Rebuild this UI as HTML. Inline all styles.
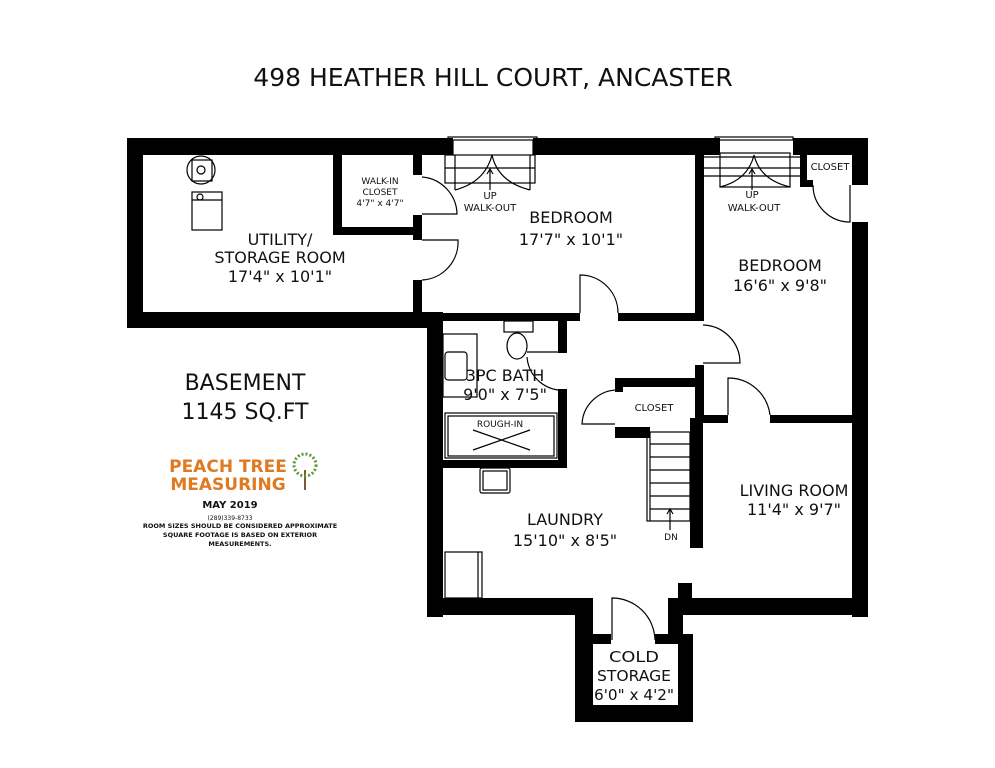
<!DOCTYPE html>
<html><head><meta charset="utf-8"><style>
html,body{margin:0;padding:0;background:#fff;}
svg{display:block;}
text{font-family:"DejaVu Sans","Liberation Sans",sans-serif;fill:#111;text-anchor:middle;}
</style></head><body>
<svg width="995" height="768" viewBox="0 0 995 768" xmlns="http://www.w3.org/2000/svg">
<rect width="995" height="768" fill="#fff"/>
<text x="493" y="86" font-size="25">498 HEATHER HILL COURT, ANCASTER</text>

<g fill="#000">
<rect x="127" y="138" width="326" height="17"/>
<rect x="533" y="138" width="187" height="17"/>
<rect x="793" y="138" width="75" height="17"/>
<rect x="127" y="138" width="16" height="190"/>
<rect x="127" y="312" width="316" height="16"/>
<rect x="427" y="312" width="16" height="305"/>
<rect x="852" y="138" width="16" height="47"/>
<rect x="852" y="222" width="16" height="395"/>
<rect x="427" y="598" width="166" height="17"/>
<rect x="668" y="598" width="200" height="17"/>
<rect x="678" y="583" width="14" height="17"/>
<rect x="575" y="598" width="18" height="124"/>
<rect x="668" y="598" width="15" height="42"/>
<rect x="678" y="634" width="15" height="88"/>
<rect x="575" y="705" width="118" height="17"/>
<rect x="593" y="634" width="18" height="10"/>
<rect x="655" y="634" width="25" height="10"/>
<rect x="413" y="155" width="9" height="20"/>
<rect x="413" y="215" width="9" height="25"/>
<rect x="413" y="280" width="9" height="35"/>
<rect x="333" y="155" width="9" height="80"/>
<rect x="333" y="227" width="85" height="8"/>
<rect x="427" y="313" width="153" height="8"/>
<rect x="618" y="313" width="85" height="8"/>
<rect x="695" y="138" width="9" height="183"/>
<rect x="695" y="365" width="9" height="57"/>
<rect x="695" y="415" width="33" height="8"/>
<rect x="770" y="415" width="85" height="8"/>
<rect x="800" y="153" width="7" height="34"/>
<rect x="800" y="180" width="13" height="7"/>
<rect x="558" y="320" width="9" height="33"/>
<rect x="558" y="389" width="9" height="79"/>
<rect x="427" y="460" width="140" height="8"/>
<rect x="615" y="378" width="82" height="9"/>
<rect x="615" y="378" width="8" height="14"/>
<rect x="615" y="427" width="35" height="11"/>
<rect x="690" y="418" width="13" height="130"/>
</g>

<g fill="none" stroke="#000" stroke-width="1.2">
<rect x="448" y="137" width="89" height="3"/>
<line x1="453" y1="140" x2="453" y2="155"/><line x1="533" y1="140" x2="533" y2="155"/>
<rect x="445" y="155" width="90" height="28"/>
<line x1="445" y1="168" x2="535" y2="168"/>
<line x1="455" y1="155" x2="455" y2="190"/><line x1="530" y1="155" x2="530" y2="190"/>
<path d="M455 190 Q485 182 492 155 Q498 182 530 190"/>
<line x1="490" y1="190" x2="490" y2="170"/><path d="M487 174 L490 169 L493 174"/>
<rect x="715" y="137" width="78" height="3"/>
<rect x="720" y="153" width="70" height="34"/>
<line x1="704" y1="157" x2="800" y2="157"/><line x1="704" y1="168" x2="800" y2="168"/><line x1="704" y1="176" x2="800" y2="176"/>
<path d="M720 187 Q748 180 754 155 Q760 180 790 187"/>
<line x1="752" y1="190" x2="752" y2="170"/><path d="M749 174 L752 169 L755 174"/>
<path d="M422 177 A38 38 0 0 1 457 214 L422 214"/>
<path d="M422 240 L458 240 A38 38 0 0 1 422 280"/>
<path d="M580 313 L580 275 A38 38 0 0 1 618 313"/>
<path d="M703 325 A38 38 0 0 1 740 363 L703 363"/>
<path d="M728 415 L728 378 A42 42 0 0 1 770 415"/>
<path d="M813 185 A37 37 0 0 0 850 222 L850 185"/>
<path d="M615 424 L582 424 A36 36 0 0 1 620 390"/>
<path d="M527 352 L558 352"/>
<path d="M527 357 A36 36 0 0 0 558 390"/>
<path d="M612 640 L612 598 A43 43 0 0 1 655 640"/>
<rect x="647" y="432" width="43" height="89"/>
<line x1="650" y1="432" x2="650" y2="521"/>
<line x1="650" y1="444" x2="690" y2="444"/><line x1="650" y1="457" x2="690" y2="457"/>
<line x1="650" y1="470" x2="690" y2="470"/><line x1="650" y1="483" x2="690" y2="483"/>
<line x1="650" y1="496" x2="690" y2="496"/><line x1="650" y1="509" x2="690" y2="509"/>
<line x1="670" y1="530" x2="670" y2="510"/><path d="M667 514 L670 509 L673 514"/>
<circle cx="201" cy="170" r="14"/>
<rect x="192" y="160" width="20" height="21"/>
<circle cx="201" cy="170" r="4"/>
<rect x="192" y="192" width="30" height="38"/>
<line x1="192" y1="200" x2="222" y2="200"/>
<circle cx="200" cy="197" r="3"/>
<rect x="504" y="321" width="29" height="11"/>
<ellipse cx="517" cy="346" rx="10" ry="13"/>
<rect x="443" y="334" width="34" height="63"/>
<rect x="445" y="352" width="22" height="28" rx="3"/>
<rect x="445" y="413" width="112" height="45"/>
<rect x="448" y="416" width="106" height="40"/>
<line x1="473" y1="430" x2="530" y2="450"/><line x1="473" y1="450" x2="530" y2="430"/>
<rect x="480" y="468" width="30" height="25" rx="2"/>
<rect x="483" y="471" width="24" height="19"/>
<rect x="445" y="552" width="37" height="46"/>
<line x1="478" y1="552" x2="478" y2="598"/>
</g>

<g>
<text x="380" y="184" font-size="9">WALK-IN</text>
<text x="380" y="195" font-size="9">CLOSET</text>
<text x="380" y="206" font-size="9">4'7" x 4'7"</text>
<text x="280" y="245" font-size="16">UTILITY/</text>
<text x="280" y="263" font-size="16">STORAGE ROOM</text>
<text x="280" y="282" font-size="16">17'4" x 10'1"</text>
<text x="490" y="199" font-size="10">UP</text>
<text x="490" y="211" font-size="10">WALK-OUT</text>
<text x="571" y="223" font-size="16">BEDROOM</text>
<text x="571" y="245" font-size="16">17'7" x 10'1"</text>
<text x="752" y="198" font-size="10">UP</text>
<text x="754" y="211" font-size="10">WALK-OUT</text>
<text x="830" y="170" font-size="10">CLOSET</text>
<text x="780" y="271" font-size="16">BEDROOM</text>
<text x="780" y="291" font-size="16">16'6" x 9'8"</text>
<text x="505" y="381" font-size="16">3PC BATH</text>
<text x="505" y="400" font-size="16">9'0" x 7'5"</text>
<text x="500" y="427" font-size="9">ROUGH-IN</text>
<text x="654" y="411" font-size="10">CLOSET</text>
<text x="565" y="525" font-size="16">LAUNDRY</text>
<text x="565" y="546" font-size="16">15'10" x 8'5"</text>
<text x="671" y="540" font-size="9">DN</text>
<text x="794" y="496" font-size="16">LIVING ROOM</text>
<text x="794" y="515" font-size="16">11'4" x 9'7"</text>
<text x="634" y="662" font-size="15" textLength="50" lengthAdjust="spacingAndGlyphs">COLD</text>
<text x="634" y="681" font-size="15" textLength="74" lengthAdjust="spacingAndGlyphs">STORAGE</text>
<text x="634" y="700" font-size="15" textLength="80" lengthAdjust="spacingAndGlyphs">6'0" x 4'2"</text>
<text x="245" y="390" font-size="22">BASEMENT</text>
<text x="245" y="419" font-size="22">1145 SQ.FT</text>
<text x="228" y="472" font-size="17" font-weight="bold" style="fill:#e07a22">PEACH TREE</text>
<text x="228" y="490" font-size="17" font-weight="bold" style="fill:#e07a22">MEASURING</text>
<text x="230" y="508" font-size="10" font-weight="bold">MAY 2019</text>
<text x="230" y="520" font-size="6">(289)339-8733</text>
<text x="240" y="528" font-size="6.5" font-weight="bold">ROOM SIZES SHOULD BE CONSIDERED APPROXIMATE</text>
<text x="240" y="537" font-size="6.5" font-weight="bold">SQUARE FOOTAGE IS BASED ON EXTERIOR</text>
<text x="240" y="546" font-size="6.5" font-weight="bold">MEASUREMENTS.</text>
</g>
<g>
<line x1="305" y1="470" x2="305" y2="490" stroke="#7a5a3a" stroke-width="2"/>
<circle cx="305" cy="465" r="11" fill="none" stroke="#5a9a3a" stroke-width="3" stroke-dasharray="2 2"/>
</g>
</svg>
</body></html>
